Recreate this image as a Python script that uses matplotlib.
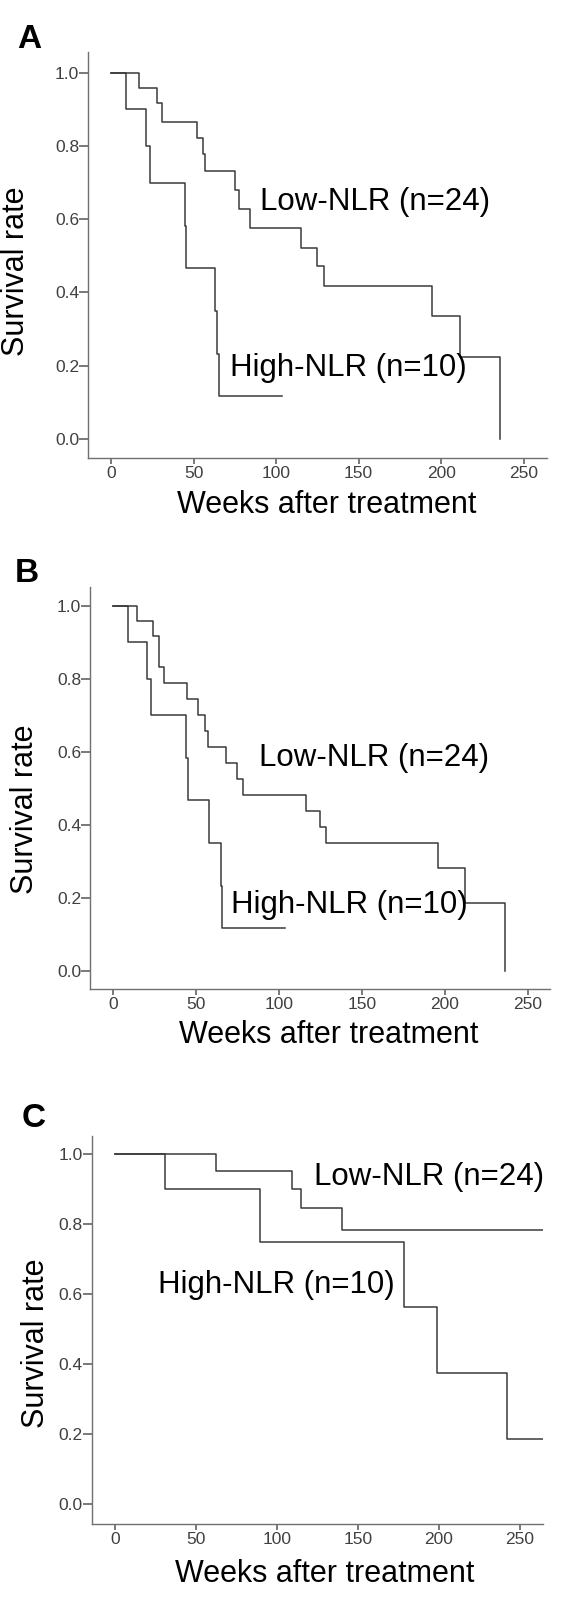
from matplotlib import pyplot as plt

# Kaplan-Meier steps (weeks, survival)
a_low_t = [0, 16.8, 27.7, 31, 52, 55.7, 56.8, 74.9, 77.5, 84.5, 115.3, 124.7, 128.8, 194.3, 211.4, 235.4]
a_low_s = [1, 0.958, 0.917, 0.867, 0.823, 0.778, 0.733, 0.681, 0.628, 0.575, 0.522, 0.471, 0.418, 0.335, 0.223, 0.0]
a_high_t = [0, 9.4, 21, 23.6, 45, 45.6, 62.9, 64.4, 65.3, 103.7]
a_high_s = [1, 0.9, 0.8, 0.7, 0.583, 0.467, 0.35, 0.233, 0.117, 0.117]

b_low_t = [0, 14.5, 24.5, 27.6, 30.6, 44.5, 51.6, 55.8, 57.5, 68.1, 74.9, 78.6, 116.1, 124.6, 128.5, 195.7, 212.2, 236.5]
b_low_s = [1, 0.958, 0.917, 0.833, 0.79, 0.745, 0.702, 0.658, 0.614, 0.57, 0.526, 0.482, 0.439, 0.395, 0.351, 0.281, 0.187, 0.0]
b_high_t = [0, 9.1, 20.6, 23.2, 44.3, 45.4, 57.7, 64.9, 65.8, 103.7]
b_high_s = [1, 0.9, 0.8, 0.7, 0.583, 0.467, 0.35, 0.233, 0.117, 0.117]

c_low_t = [0, 62.6, 109.4, 114.5, 139.9, 264]
c_low_s = [1, 0.952, 0.902, 0.845, 0.784, 0.784]
c_high_t = [0, 30.7, 89.5, 178.6, 198.7, 242.1, 264]
c_high_s = [1, 0.9, 0.75, 0.5625, 0.375, 0.1875, 0.1875]

low_label = "Low-NLR (n=24)"
high_label = "High-NLR (n=10)"
x_ticks = [0, 50, 100, 150, 200, 250]
y_ticks = [0.0, 0.2, 0.4, 0.6, 0.8, 1.0]

W, H = 566, 1601
plt.rcParams['font.family'] = ['Liberation Sans', 'DejaVu Sans']
fig = plt.figure(figsize=(W / 100, H / 100), dpi=100)


def px(x, y):
    return x / W, 1 - y / H


def panel(box, xlim, ylim, low, high, letter, letter_xy, low_xy, high_xy, ylab_xy, xlab_xy):
    left, top, right, bottom = box
    ax = fig.add_axes([left / W, 1 - bottom / H, (right - left) / W, (bottom - top) / H])
    ax.step(low[0], low[1], where='post', color='#3a3a3a', lw=1.1)
    ax.step(high[0], high[1], where='post', color='#3a3a3a', lw=1.1)
    ax.set_xlim(*xlim)
    ax.set_ylim(*ylim)
    ax.set_xticks(x_ticks)
    ax.set_yticks(y_ticks)
    ax.set_yticklabels(["%.1f" % v for v in y_ticks])
    for s in ['top', 'right']:
        ax.spines[s].set_visible(False)
    for s in ['left', 'bottom']:
        ax.spines[s].set_color('#707070')
        ax.spines[s].set_linewidth(1.0)
    ax.tick_params(axis='y', length=6.3, width=1.1, color='#555555', pad=0,
                   labelsize=12.5, labelcolor='#404040')
    ax.tick_params(axis='x', length=4.3, width=1.1, color='#555555', pad=1.5,
                   labelsize=12.5, labelcolor='#404040')

    fig.text(*px(*letter_xy), letter, fontsize=24, fontweight='bold', ha='left', va='baseline')
    fig.text(*px(*low_xy), low_label, fontsize=22.5, ha='left', va='center')
    fig.text(*px(*high_xy), high_label, fontsize=22.5, ha='left', va='center')
    fig.text(*px(*ylab_xy), "Survival rate", fontsize=22, rotation=90, ha='center', va='center')
    fig.text(*px(*xlab_xy), "Weeks after treatment", fontsize=22, ha='center', va='center')
    return ax


panel((88, 52, 546.7, 458.3), (-13.9, 263.9), (-0.053, 1.057),
      (a_low_t, a_low_s), (a_high_t, a_high_s), "A",
      (17, 48), (259.5, 201.7), (230, 367.6), (16.2, 271), (327, 504.7))

panel((90, 587, 549.5, 989), (-13.7, 263), (-0.050, 1.052),
      (b_low_t, b_low_s), (b_high_t, b_high_s), "B",
      (15, 582), (258.7, 758), (230.9, 905.3), (25.1, 809), (329, 1035))

panel((91.7, 1136, 542.7, 1524.3), (-14.4, 264), (-0.057, 1.052),
      (c_low_t, c_low_s), (c_high_t, c_high_s), "C",
      (21.6, 1127), (314.4, 1176.5), (157.5, 1285), (35.7, 1343), (325, 1574))

fig.savefig("out.png", dpi=100)
